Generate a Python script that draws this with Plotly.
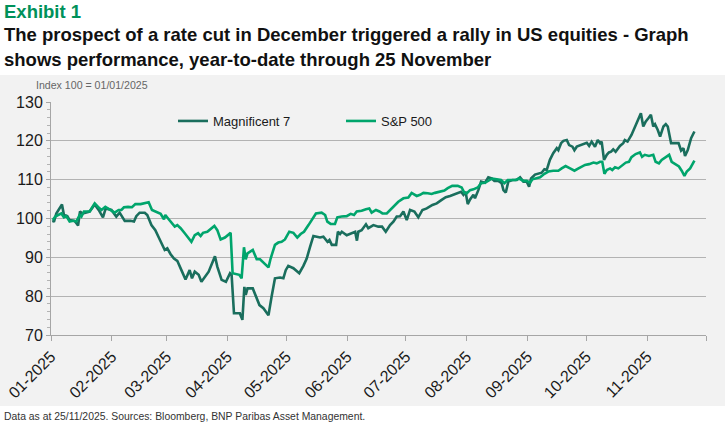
import pandas as pd
import plotly.graph_objects as go

# days after 1 Jan 2025, index 100 = 01/01/2025
mag7_day = [0.9, 1.5, 2.7, 5.6, 6.6, 8.3, 9.5, 12.0, 13.8, 14.8, 16.0, 19.7, 22.3, 24.3, 26.5, 27.9,
            30.8, 33.3, 35.0, 37.6, 40.6, 42.3, 43.5, 45.2, 47.8, 49.1, 51.2, 53.2, 54.6, 56.3, 58.0,
            59.3, 61.0, 62.7, 64.4, 66.5, 68.6, 70.7, 71.9, 73.3, 75.3, 76.7, 78.4, 80.4, 83.6, 84.8,
            87.0, 89.2, 91.3, 92.1, 93.3, 96.3, 97.6, 98.6, 99.3, 100.2, 102.9, 104.6, 106.3, 108.3,
            110.9, 112.5, 114.2, 116.8, 118.5, 119.7, 121.0, 123.6, 126.6, 128.7, 130.4, 132.1, 133.8,
            135.5, 137.2, 138.9, 141.0, 142.0, 143.2, 145.4, 146.3, 147.4, 148.3, 150.8, 153.4, 155.1,
            156.0, 156.7, 158.4, 160.6, 161.8, 164.4, 166.9, 168.8, 170.7, 172.9, 174.6, 176.3, 178.0,
            179.7, 181.4, 183.1, 185.3, 187.3, 189.4, 191.6, 194.5, 196.7, 199.2, 201.3, 203.5, 205.2,
            207.4, 209.1, 210.3, 211.4, 212.5, 213.7, 215.4, 216.2, 217.9, 219.3, 221.3, 223.0, 224.7,
            226.1, 228.1, 229.8, 230.7, 231.9, 233.2, 235.3, 237.5, 239.2, 240.9, 242.6, 243.8, 244.8,
            246.8, 250.2, 251.6, 252.8, 254.4, 256.1, 257.9, 258.7, 260.1, 261.3, 263.0, 264.2, 265.9,
            266.9, 268.1, 270.6, 273.2, 274.4, 275.7, 277.4, 278.8, 280.0, 280.8, 282.0, 283.4, 284.5,
            285.6, 286.7, 287.9, 290.1, 291.8, 292.6, 294.0, 296.0, 297.8, 299.5, 300.8, 302.0, 303.2,
            304.6, 305.9, 307.1, 308.0, 309.4, 310.6, 312.3, 313.5, 314.5, 316.2, 317.9, 320.0, 321.3,
            322.5, 323.3, 324.7, 326.4, 328.1]
mag7 = [99.6, 99.1, 101.3, 103.6, 100.9, 100.6, 99.6, 99.4, 98.2, 101.8, 101.3, 101.8, 103.6, 102.2,
        100.3, 102.6, 102.2, 100.5, 101.5, 99.4, 99.4, 99.2, 100.6, 101.5, 101.5, 100.9, 98.3, 97.0,
        95.5, 93.8, 91.9, 92.3, 90.8, 89.7, 89.1, 86.7, 84.3, 86.7, 84.6, 86.3, 85.5, 83.7, 85.0, 86.3,
        90.3, 87.6, 84.2, 83.7, 85.9, 85.5, 75.6, 75.6, 73.9, 82.4, 80.3, 82.0, 82.0, 79.9, 77.7, 76.9,
        75.1, 79.9, 84.6, 84.8, 84.6, 86.7, 87.8, 87.2, 85.9, 87.8, 89.7, 92.7, 95.5, 95.3, 95.1, 95.3,
        94.0, 94.5, 93.2, 93.2, 96.6, 96.0, 96.6, 95.7, 96.2, 96.6, 94.3, 96.6, 97.0, 98.5, 97.5, 98.3,
        97.9, 97.9, 96.6, 98.3, 99.2, 100.5, 100.6, 101.8, 99.6, 102.2, 101.8, 100.3, 102.2, 102.6,
        103.5, 103.9, 104.8, 105.5, 105.8, 106.1, 106.5, 106.9, 106.1, 106.9, 103.7, 104.9, 106.1,
        105.2, 107.3, 109.5, 109.2, 110.6, 110.3, 109.7, 109.7, 109.1, 107.3, 106.7, 109.5, 109.9,
        109.9, 110.6, 109.5, 109.5, 108.2, 110.3, 111.3, 111.8, 112.7, 112.5, 115.1, 116.8, 118.1,
        117.6, 119.4, 120.0, 120.2, 118.9, 118.5, 117.6, 118.5, 118.9, 119.5, 118.7, 119.8, 118.5,
        120.2, 119.4, 119.8, 115.1, 116.4, 117.0, 117.2, 117.8, 117.2, 118.7, 119.4, 120.2, 119.8,
        121.5, 123.5, 125.5, 127.1, 123.7, 124.9, 125.8, 126.7, 123.7, 124.3, 122.8, 121.1, 123.7,
        124.3, 123.7, 119.4, 119.4, 119.4, 117.5, 118.1, 116.1, 117.6, 120.7, 122.4]

spx_day = [0.9, 2.2, 3.6, 5.3, 6.6, 7.8, 9.5, 11.2, 12.9, 14.6, 15.5, 16.8, 19.7, 22.3, 24.0, 25.7,
           27.7, 29.1, 30.8, 32.5, 34.5, 35.9, 37.2, 39.3, 41.3, 43.0, 45.7, 47.8, 49.8, 51.5, 53.7,
           55.9, 57.6, 58.3, 59.7, 61.7, 63.1, 64.4, 66.1, 68.2, 69.9, 71.6, 73.3, 75.0, 76.3, 77.5,
           79.7, 81.4, 83.3, 84.8, 86.5, 88.7, 90.4, 91.6, 92.6, 96.0, 97.2, 98.4, 99.3, 100.2, 102.9,
           104.9, 106.6, 108.6, 110.9, 112.0, 114.2, 115.9, 117.6, 119.3, 121.5, 123.6, 125.6, 127.3,
           129.0, 131.3, 133.0, 135.1, 138.0, 139.8, 140.9, 142.6, 144.8, 146.0, 148.2, 150.8, 152.8,
           154.5, 155.9, 158.4, 160.6, 162.3, 163.5, 165.7, 167.5, 169.0, 171.2, 172.9, 174.6, 177.1,
           179.7, 182.2, 183.9, 186.5, 188.2, 189.9, 192.1, 194.1, 195.8, 198.4, 200.6, 202.3, 204.6,
           207.4, 209.4, 210.8, 212.0, 213.7, 215.4, 217.6, 219.3, 221.3, 223.4, 225.0, 227.3, 229.5,
           231.2, 232.9, 234.9, 236.9, 238.7, 240.9, 242.6, 244.3, 245.5, 247.6, 249.4, 251.6, 253.6,
           256.1, 258.7, 260.4, 262.4, 264.7, 266.9, 269.0, 270.6, 272.3, 274.4, 276.6, 278.3, 280.0,
           281.1, 282.2, 283.4, 285.1, 286.2, 287.6, 289.3, 291.3, 293.1, 294.7, 296.0, 298.1, 300.3,
           301.4, 302.8, 304.9, 307.1, 308.3, 310.0, 311.4, 313.5, 315.2, 316.5, 318.6, 320.2, 321.6,
           323.0, 324.2, 325.9, 328.1]
spx = [99.6, 100.5, 100.9, 101.3, 100.3, 100.6, 99.2, 99.4, 99.2, 100.9, 100.5, 101.8, 101.8, 103.9,
       103.0, 102.2, 103.0, 102.6, 102.2, 101.5, 102.2, 102.2, 102.9, 103.0, 102.9, 103.7, 103.7, 103.9,
       104.2, 102.2, 101.8, 101.2, 99.8, 100.9, 100.0, 98.8, 97.9, 98.3, 97.5, 96.2, 95.1, 94.0, 95.7,
       96.2, 95.5, 96.3, 96.6, 97.2, 98.1, 97.0, 94.6, 95.1, 95.7, 96.3, 85.9, 85.5, 84.6, 92.6, 89.5,
       91.0, 91.9, 89.5, 89.5, 88.5, 87.4, 89.7, 93.2, 93.8, 94.0, 94.6, 96.6, 96.3, 95.1, 96.0, 96.6,
       98.3, 99.8, 101.3, 101.5, 100.9, 99.2, 98.6, 98.6, 100.3, 100.5, 100.6, 101.2, 100.9, 101.8,
       102.0, 102.4, 102.6, 101.5, 102.2, 101.8, 101.3, 101.3, 102.2, 103.0, 104.3, 105.2, 105.4,
       106.6, 105.8, 106.1, 106.6, 106.5, 106.3, 106.6, 106.9, 107.2, 107.8, 108.4, 108.4, 108.0,
       106.6, 106.5, 107.3, 107.5, 108.0, 109.1, 109.2, 109.9, 110.3, 110.1, 109.9, 109.1, 109.9,
       109.9, 109.9, 110.3, 109.7, 109.7, 109.2, 110.1, 110.4, 110.6, 111.5, 112.1, 112.3, 112.3,
       112.9, 113.5, 112.9, 112.3, 112.9, 113.4, 113.8, 114.0, 114.4, 114.2, 114.6, 114.6, 111.5,
       112.5, 112.9, 112.5, 113.2, 112.9, 113.8, 114.4, 114.6, 115.8, 116.6, 117.0, 115.9, 116.4,
       116.1, 116.4, 114.6, 114.2, 115.1, 115.9, 116.4, 114.6, 114.0, 113.4, 112.3, 111.0, 112.1,
       112.9, 114.9]

month_ticks = ["2025-01-01", "2025-02-01", "2025-03-01", "2025-04-01", "2025-05-01", "2025-06-01",
               "2025-07-01", "2025-08-01", "2025-09-01", "2025-10-01", "2025-11-01", "2025-12-01"]
month_labels = ["01-2025", "02-2025", "03-2025", "04-2025", "05-2025", "06-2025",
                "07-2025", "08-2025", "09-2025", "10-2025", "11-2025", ""]

start = pd.Timestamp("2025-01-01")
mag7_dates = start + pd.to_timedelta(mag7_day, unit="D")
spx_dates = start + pd.to_timedelta(spx_day, unit="D")

W, H = 725, 424
L, R, T, B = 51, 19, 102, 89
pw, ph = W - L - R, H - T - B


def px(x):
    # pixel -> paper x
    return (x - L) / pw


def py(y):
    # pixel -> paper y
    return (H - B - y) / ph


fig = go.Figure()
fig.add_trace(go.Scatter(x=mag7_dates, y=mag7, name="Magnificent 7", mode="lines",
                         line=dict(color="#1a6e5d", width=2.6)))
fig.add_trace(go.Scatter(x=spx_dates, y=spx, name="S&P 500", mode="lines",
                         line=dict(color="#00a56c", width=2.6)))

# grey panel behind the chart
fig.add_shape(type="rect", xref="paper", yref="paper", x0=px(-5), x1=px(730), y0=py(406), y1=py(75),
              fillcolor="#f2f2f2", line_width=0, layer="below")

title_font = dict(family="Liberation Sans", size=18.5, color="#111111", weight="bold")
fig.add_annotation(text="Exhibit 1", xref="paper", yref="paper", x=px(2), y=py(11),
                   xanchor="left", yanchor="middle", showarrow=False,
                   font=dict(family="Liberation Sans", size=18.5, color="#00915a", weight="bold"))
fig.add_annotation(text="The prospect of a rate cut in December triggered a rally in US equities - Graph",
                   xref="paper", yref="paper", x=px(2), y=py(34), xanchor="left", yanchor="middle",
                   showarrow=False, font=title_font)
fig.add_annotation(text="shows performance, year-to-date through 25 November",
                   xref="paper", yref="paper", x=px(2), y=py(59), xanchor="left", yanchor="middle",
                   showarrow=False, font=title_font)
fig.add_annotation(text="Index 100 = 01/01/2025", xref="paper", yref="paper", x=px(34), y=py(85),
                   xanchor="left", yanchor="middle", showarrow=False,
                   font=dict(family="Liberation Sans", size=10.6, color="#666666"))
fig.add_annotation(text="Data as at 25/11/2025. Sources: Bloomberg, BNP Paribas Asset Management.",
                   xref="paper", yref="paper", x=px(2), y=py(416), xanchor="left", yanchor="middle",
                   showarrow=False, font=dict(family="Liberation Sans", size=10.4, color="#333333"))

fig.update_xaxes(range=["2025-01-01", "2025-12-01"], tickvals=month_ticks, ticktext=month_labels,
                 tickangle=-45, showgrid=False, showline=True, linecolor="#a6a6a6", linewidth=1,
                 ticks="outside", ticklen=5, tickcolor="#a6a6a6", automargin=False,
                 tickfont=dict(family="Liberation Sans", size=16, color="#1a1a1a"))
fig.update_yaxes(range=[70, 130], dtick=10, showgrid=True, gridcolor="#b3b3b3", gridwidth=1,
                 zeroline=False, showline=True, linecolor="#a6a6a6", linewidth=1,
                 ticks="outside", ticklen=4, tickcolor="#a6a6a6", automargin=False,
                 minor=dict(dtick=2, ticks="outside", ticklen=3, tickcolor="#b3b3b3", showgrid=False),
                 tickfont=dict(family="Liberation Sans", size=16, color="#1a1a1a"))

fig.update_layout(
    width=W, height=H,
    margin=dict(l=L, r=R, t=T, b=B, autoexpand=False),
    paper_bgcolor="white", plot_bgcolor="rgba(0,0,0,0)",
    showlegend=True,
    legend=dict(orientation="h", x=px(173), y=py(121), xanchor="left", yanchor="middle",
                bgcolor="rgba(0,0,0,0)", entrywidth=123, itemwidth=30,
                font=dict(family="Liberation Sans", size=13, color="#1a1a1a")),
)

# the page body keeps its default 8px margin otherwise
fig.write_html("out.html", config={"displayModeBar": False},
               post_script="document.body.style.margin='0';")
